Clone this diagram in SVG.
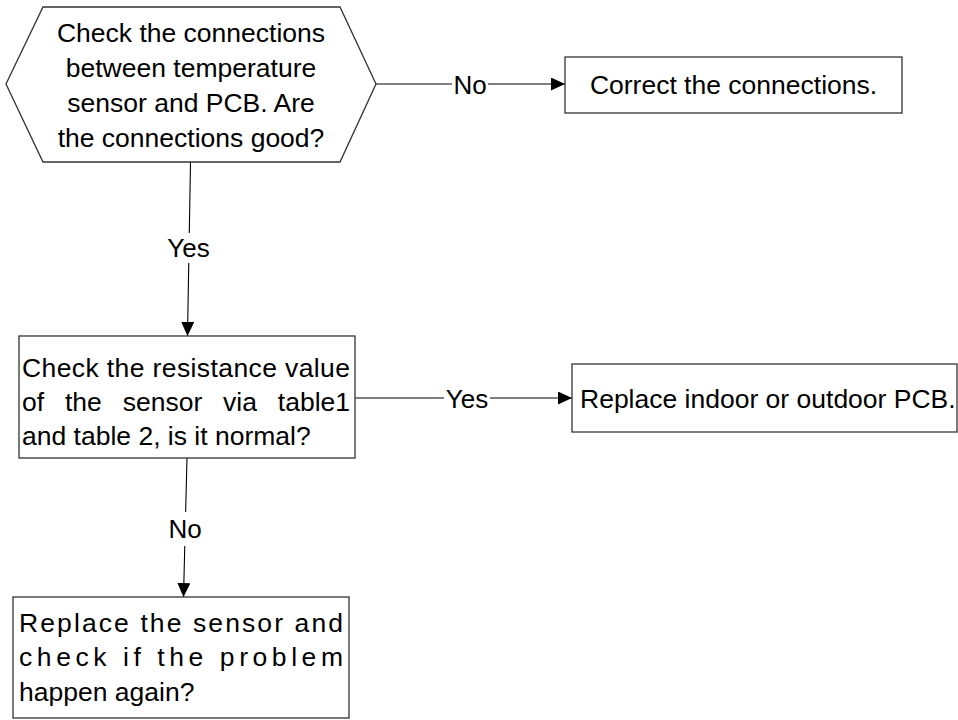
<svg xmlns="http://www.w3.org/2000/svg" width="958" height="720" viewBox="0 0 958 720">
<style>
.shape{fill:#fff;stroke:#333;stroke-width:1.3}
.t{font-family:"Liberation Sans",Arial,sans-serif;font-size:26.5px;fill:#000}
.c{text-anchor:middle}
.conn{fill:none;stroke:#000;stroke-width:1.1}
.lbl{font-family:"Liberation Sans",Arial,sans-serif;font-size:26px;fill:#000;text-anchor:middle}
.bg{fill:#fff;stroke:none}
</style>
<defs>
<marker id="arr" markerWidth="14" markerHeight="13" refX="14" refY="6.5" orient="auto" markerUnits="userSpaceOnUse">
<path d="M0,0 L14,6.5 L0,13 Z" fill="#000"/>
</marker>
</defs>
<rect width="958" height="720" fill="#fff"/>
<g id="connectors">
<path class="conn" d="M376,84 L565,84" marker-end="url(#arr)"/>
<rect class="bg" x="452" y="70" width="36" height="28"/>
<text class="lbl" x="470" y="94">No</text>
<path class="conn" d="M190.5,162 L187.5,336" marker-end="url(#arr)"/>
<rect class="bg" x="165" y="233" width="46" height="30"/>
<text class="lbl" x="188.5" y="257">Yes</text>
<path class="conn" d="M355,398 L572,398" marker-end="url(#arr)"/>
<rect class="bg" x="444" y="384" width="46" height="28"/>
<text class="lbl" x="467" y="408">Yes</text>
<path class="conn" d="M187,458 L183.5,597" marker-end="url(#arr)"/>
<rect class="bg" x="168" y="512" width="34" height="34"/>
<text class="lbl" x="185" y="538">No</text>
</g>
<g id="decision1">
<polygon class="shape" points="6,84 43,7 340,7 376,84 340,162 43,162"/>
<text class="t c" x="191" y="42">Check the connections</text>
<text class="t c" x="191" y="77">between temperature</text>
<text class="t c" x="191" y="112">sensor and PCB. Are</text>
<text class="t c" x="191" y="147">the connections good?</text>
</g>
<g id="correct">
<rect class="shape" x="565" y="57" width="337" height="56"/>
<text class="t c" x="733.5" y="94">Correct the connections.</text>
</g>
<g id="check-resistance">
<rect class="shape" x="19" y="336" width="336" height="122"/>
<text class="t" x="22" y="377" textLength="328" lengthAdjust="spacing">Check the resistance value</text>
<text class="t" x="22" y="411" style="word-spacing:13.5px">of the sensor via table1</text>
<text class="t" x="22" y="445">and table 2, is it normal?</text>
</g>
<g id="replace-pcb">
<rect class="shape" x="572" y="364" width="385" height="68"/>
<text class="t" x="580" y="408">Replace indoor or outdoor PCB.</text>
</g>
<g id="replace-sensor">
<rect class="shape" x="13" y="597" width="336" height="121"/>
<text class="t" x="19" y="632" textLength="324" lengthAdjust="spacing">Replace the sensor and</text>
<text class="t" x="19" y="666" textLength="324" lengthAdjust="spacing">check if the problem</text>
<text class="t" x="19" y="701">happen again?</text>
</g>
</svg>
